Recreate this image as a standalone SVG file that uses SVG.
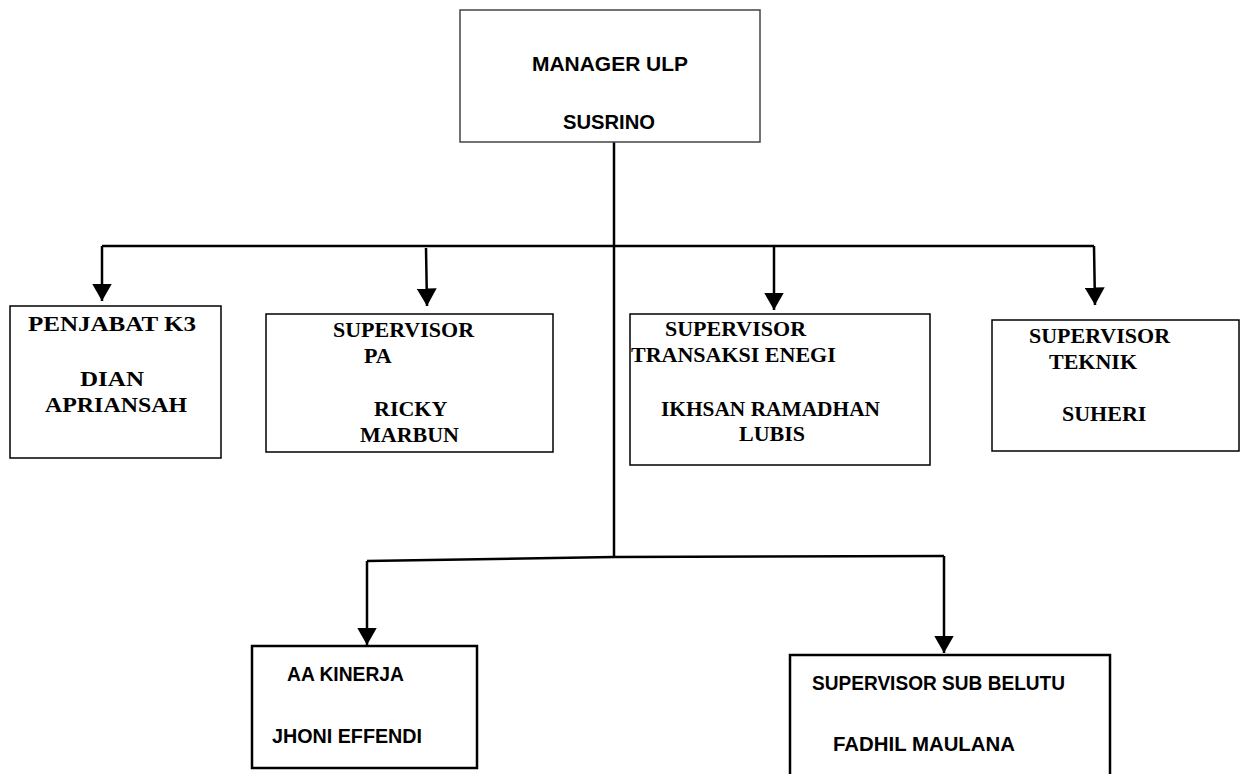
<svg xmlns="http://www.w3.org/2000/svg" width="1241" height="774" viewBox="0 0 1241 774">
<style>
.bx{fill:#fff;stroke:#000;stroke-width:1.5}
.bxg{fill:#fff;stroke:#444;stroke-width:1.5}
.bxt{fill:#fff;stroke:#000;stroke-width:2.5}
.ln{fill:none;stroke:#000;stroke-width:2.5}
.tt{font-family:"Liberation Serif","Times New Roman",serif;font-weight:bold;font-size:22px;fill:#000}
.ct{font-family:"Liberation Sans",Arial,sans-serif;font-weight:bold;font-size:21px;fill:#000}
</style>
<defs>
<marker id="ah" markerWidth="7" markerHeight="8" refX="7" refY="4" orient="auto" markerUnits="strokeWidth">
<path d="M0,0 L7,4 L0,8 Z" fill="#000"/>
</marker>
</defs>
<rect width="1241" height="774" fill="#fff"/>
<g id="connectors">
<path class="ln" d="M614,142 L614,557"/>
<path class="ln" d="M102,246 L1094,246"/>
<path class="ln" d="M102,246 L102,301" marker-end="url(#ah)"/>
<path class="ln" d="M426,248 L427,306" marker-end="url(#ah)"/>
<path class="ln" d="M774,246 L774,310" marker-end="url(#ah)"/>
<path class="ln" d="M1094,246 L1095,305" marker-end="url(#ah)"/>
<path class="ln" d="M367,561 L614,557 L944,556"/>
<path class="ln" d="M367,561 L367,645" marker-end="url(#ah)"/>
<path class="ln" d="M944,556 L944,653" marker-end="url(#ah)"/>
</g>
<g id="manager">
<rect class="bxg" x="460" y="10" width="300" height="132"/>
<text class="ct" x="532" y="71" textLength="156" lengthAdjust="spacingAndGlyphs">MANAGER ULP</text>
<text class="ct" x="563" y="129" textLength="92" lengthAdjust="spacingAndGlyphs">SUSRINO</text>
</g>
<g id="k3">
<rect class="bx" x="10" y="306" width="211" height="152"/>
<text class="tt" x="28" y="331" textLength="168" lengthAdjust="spacingAndGlyphs">PENJABAT K3</text>
<text class="tt" x="80" y="386" textLength="64" lengthAdjust="spacingAndGlyphs">DIAN</text>
<text class="tt" x="45" y="412" textLength="142" lengthAdjust="spacingAndGlyphs">APRIANSAH</text>
</g>
<g id="pa">
<rect class="bx" x="266" y="314" width="287" height="138"/>
<text class="tt" x="333" y="337">SUPERVISOR</text>
<text class="tt" x="364" y="363">PA</text>
<text class="tt" x="374" y="416">RICKY</text>
<text class="tt" x="360" y="442">MARBUN</text>
</g>
<g id="transaksi">
<rect class="bx" x="630" y="314" width="300" height="151"/>
<text class="tt" x="665" y="336">SUPERVISOR</text>
<text class="tt" x="631" y="362">TRANSAKSI ENEGI</text>
<text class="tt" x="661" y="416" textLength="219" lengthAdjust="spacingAndGlyphs">IKHSAN RAMADHAN</text>
<text class="tt" x="739" y="441">LUBIS</text>
</g>
<g id="teknik">
<rect class="bx" x="992" y="320" width="247" height="131"/>
<text class="tt" x="1029" y="343">SUPERVISOR</text>
<text class="tt" x="1049" y="369">TEKNIK</text>
<text class="tt" x="1062" y="421">SUHERI</text>
</g>
<g id="kinerja">
<rect class="bxt" x="252" y="646" width="225" height="122"/>
<text class="ct" x="287" y="681" textLength="117" lengthAdjust="spacingAndGlyphs">AA KINERJA</text>
<text class="ct" x="272" y="743" textLength="150" lengthAdjust="spacingAndGlyphs">JHONI EFFENDI</text>
</g>
<g id="belutu">
<rect class="bxt" x="790" y="655" width="320" height="140"/>
<text class="ct" x="812" y="690" textLength="253" lengthAdjust="spacingAndGlyphs">SUPERVISOR SUB BELUTU</text>
<text class="ct" x="833" y="751" textLength="182" lengthAdjust="spacingAndGlyphs">FADHIL MAULANA</text>
</g>
</svg>
